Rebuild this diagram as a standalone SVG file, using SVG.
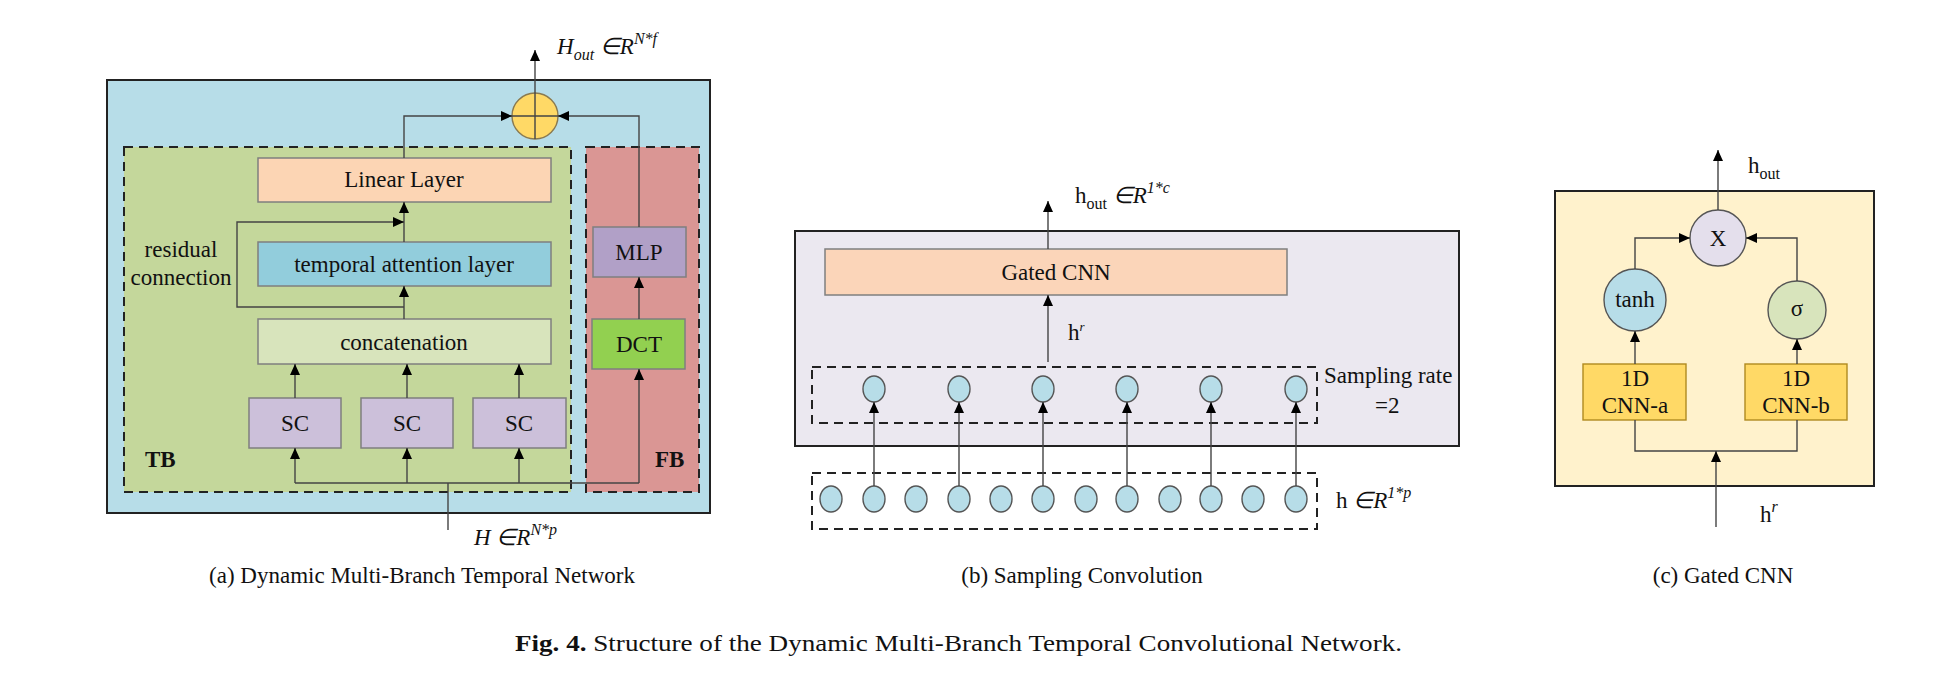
<svg xmlns="http://www.w3.org/2000/svg" width="1933" height="684" viewBox="0 0 1933 684">
<style>
text{font-family:"Liberation Serif","Times New Roman",serif;font-size:23px;fill:#111}
.c{text-anchor:middle}
.i{font-style:italic}
.b{font-weight:bold}
.box{stroke:#7f7f7f;stroke-width:1.5}
.frame{stroke:#222;stroke-width:2}
.dash{fill:none;stroke:#222;stroke-width:2;stroke-dasharray:9 6}
.ln{fill:none;stroke:#444;stroke-width:1.4}
.ar{marker-end:url(#ah)}
.node{stroke:#555;stroke-width:1.4}
</style>
<defs>
<marker id="ah" markerUnits="userSpaceOnUse" markerWidth="12" markerHeight="10" refX="11" refY="5" orient="auto">
<path d="M0,0 L11,5 L0,10 z" fill="#000"/>
</marker>
</defs>
<rect width="1933" height="684" fill="#fff"/>

<!-- Panel (a) -->
<g id="panelA-frame">
<rect x="107" y="80" width="603" height="433" fill="#b7dde8" class="frame"/>
<rect x="124" y="147" width="447" height="345" fill="#c4d79b"/>
<rect x="124" y="147" width="447" height="345" class="dash"/>
<rect x="586" y="147" width="113" height="345" fill="#da9694"/>
<rect x="586" y="147" width="113" height="345" class="dash"/>
<text x="145" y="467" class="b">TB</text>
<text x="655" y="467" class="b">FB</text>
</g>
<g id="adder">
<circle cx="535" cy="116" r="23" fill="#ffd966" stroke="#8a7a50" stroke-width="1.4"/>
<path d="M512,116 H558 M535,93 V139" stroke="#444" stroke-width="1.4"/>
</g>
<g id="linear"><rect x="258" y="158" width="293" height="44" fill="#fcd5b4" class="box"/><text x="404" y="187" class="c">Linear Layer</text></g>
<g id="temporal"><rect x="258" y="242" width="293" height="44" fill="#92cddc" class="box"/><text x="404" y="272" class="c">temporal attention layer</text></g>
<g id="concat"><rect x="258" y="319" width="293" height="45" fill="#d8e4bc" class="box"/><text x="404" y="350" class="c">concatenation</text></g>
<g id="sc1"><rect x="249" y="398" width="92" height="50" fill="#ccc0da" class="box"/><text x="295" y="431" class="c">SC</text></g>
<g id="sc2"><rect x="361" y="398" width="92" height="50" fill="#ccc0da" class="box"/><text x="407" y="431" class="c">SC</text></g>
<g id="sc3"><rect x="473" y="398" width="93" height="50" fill="#ccc0da" class="box"/><text x="519" y="431" class="c">SC</text></g>
<g id="mlp"><rect x="593" y="227" width="93" height="50" fill="#b1a0c7" class="box"/><text x="639" y="260" class="c">MLP</text></g>
<g id="dct"><rect x="592" y="319" width="93" height="50" fill="#92d050" class="box"/><text x="639" y="352" class="c">DCT</text></g>
<g id="residual-label">
<text x="181" y="257" class="c">residual</text>
<text x="181" y="285" class="c">connection</text>
</g>
<g id="labelsA">
<text x="557" y="54" class="i">H<tspan font-size="16" dy="6">out</tspan><tspan dy="-6"> ∈R</tspan><tspan font-size="16" dy="-10">N*f</tspan></text>
<text x="474" y="545" class="i">H ∈R<tspan font-size="16" dy="-10">N*p</tspan></text>
<text x="422" y="583" class="c">(a) Dynamic Multi-Branch Temporal Network</text>
</g>

<!-- Panel (b) -->
<g id="panelB-frame">
<rect x="795" y="231" width="664" height="215" fill="#ebe8f0" class="frame"/>
<rect x="812" y="367" width="505" height="56" class="dash"/>
<rect x="812" y="473" width="505" height="56" class="dash"/>
</g>
<g id="gatedcnn"><rect x="825" y="249" width="462" height="46" fill="#fbd5b9" class="box"/><text x="1056" y="280" class="c">Gated CNN</text></g>
<g id="sampled" fill="#b7dde8" class="node">
<ellipse cx="874" cy="389" rx="11" ry="13"/><ellipse cx="959" cy="389" rx="11" ry="13"/><ellipse cx="1043" cy="389" rx="11" ry="13"/><ellipse cx="1127" cy="389" rx="11" ry="13"/><ellipse cx="1211" cy="389" rx="11" ry="13"/><ellipse cx="1296" cy="389" rx="11" ry="13"/>
</g>
<g id="inputs" fill="#b7dde8" class="node">
<ellipse cx="831" cy="499" rx="11" ry="13"/><ellipse cx="874" cy="499" rx="11" ry="13"/><ellipse cx="916" cy="499" rx="11" ry="13"/><ellipse cx="959" cy="499" rx="11" ry="13"/><ellipse cx="1001" cy="499" rx="11" ry="13"/><ellipse cx="1043" cy="499" rx="11" ry="13"/><ellipse cx="1086" cy="499" rx="11" ry="13"/><ellipse cx="1127" cy="499" rx="11" ry="13"/><ellipse cx="1170" cy="499" rx="11" ry="13"/><ellipse cx="1211" cy="499" rx="11" ry="13"/><ellipse cx="1253" cy="499" rx="11" ry="13"/><ellipse cx="1296" cy="499" rx="11" ry="13"/>
</g>
<g id="labelsB">
<text x="1075" y="203">h<tspan font-size="16" dy="6">out</tspan><tspan dy="-6" class="i"> ∈R</tspan><tspan font-size="16" dy="-10" class="i">1*c</tspan></text>
<text x="1068" y="340">h<tspan font-size="13" dy="-9" class="i">r</tspan></text>
<text x="1324" y="383">Sampling rate</text>
<text x="1375" y="413">=2</text>
<text x="1336" y="508">h<tspan class="i"> ∈R</tspan><tspan font-size="16" dy="-10" class="i">1*p</tspan></text>
<text x="1082" y="583" class="c">(b) Sampling Convolution</text>
</g>

<!-- Panel (c) -->
<g id="panelC-frame"><rect x="1555" y="191" width="319" height="295" fill="#fff2cc" class="frame"/></g>
<g id="mult"><circle cx="1718" cy="238" r="28" fill="#e4dfec" class="node"/><text x="1718" y="246" class="c">X</text></g>
<g id="tanh"><circle cx="1635" cy="300" r="31" fill="#b7dde8" class="node"/><text x="1635" y="307" class="c">tanh</text></g>
<g id="sigma"><circle cx="1797" cy="310" r="29" fill="#d8e4bc" class="node"/><text x="1797" y="316" class="c" font-size="18">σ</text></g>
<g id="cnna"><rect x="1583" y="364" width="103" height="56" fill="#ffd966" stroke="#b08a20" stroke-width="1.4"/><text x="1635" y="386" class="c">1D</text><text x="1635" y="413" class="c">CNN-a</text></g>
<g id="cnnb"><rect x="1745" y="364" width="102" height="56" fill="#ffd966" stroke="#b08a20" stroke-width="1.4"/><text x="1796" y="386" class="c">1D</text><text x="1796" y="413" class="c">CNN-b</text></g>
<g id="labelsC">
<text x="1748" y="173">h<tspan font-size="16" dy="6">out</tspan></text>
<text x="1760" y="522">h<tspan font-size="16" dy="-10" class="i">r</tspan></text>
<text x="1723" y="583" class="c">(c) Gated CNN</text>
</g>

<g id="connectors">
<path class="ln ar" d="M535,93 V50"/>
<path class="ln ar" d="M404,158 V116 H512"/>
<path class="ln ar" d="M639,227 V116 H558"/>
<path class="ln ar" d="M404,242 V202"/>
<path class="ln ar" d="M404,307 H237 V222 H404"/>
<path class="ln ar" d="M404,319 V286"/>
<path class="ln ar" d="M295,398 V364"/>
<path class="ln ar" d="M407,398 V364"/>
<path class="ln ar" d="M519,398 V364"/>
<path class="ln" d="M295,483 H639"/>
<path class="ln ar" d="M295,483 V448"/>
<path class="ln ar" d="M407,483 V448"/>
<path class="ln ar" d="M519,483 V448"/>
<path class="ln ar" d="M639,483 V369"/>
<path class="ln" d="M448,530 V483"/>
<path class="ln ar" d="M639,319 V277"/>

<path class="ln ar" d="M1048,249 V201"/>
<path class="ln ar" d="M1048,362 V295"/>
<path class="ln ar" d="M874,486 V402"/>
<path class="ln ar" d="M959,486 V402"/>
<path class="ln ar" d="M1043,486 V402"/>
<path class="ln ar" d="M1127,486 V402"/>
<path class="ln ar" d="M1211,486 V402"/>
<path class="ln ar" d="M1296,486 V402"/>

<path class="ln ar" d="M1718,210 V150"/>
<path class="ln ar" d="M1635,269 V238 H1690"/>
<path class="ln ar" d="M1797,281 V238 H1746"/>
<path class="ln ar" d="M1635,364 V331"/>
<path class="ln ar" d="M1797,364 V339"/>
<path class="ln" d="M1635,420 V451 H1797 V420"/>
<path class="ln ar" d="M1716,527 V451"/>
</g>

<text x="515" y="651" textLength="887" lengthAdjust="spacingAndGlyphs"><tspan class="b">Fig. 4.</tspan>  Structure of the Dynamic Multi-Branch Temporal Convolutional Network.</text>
</svg>
